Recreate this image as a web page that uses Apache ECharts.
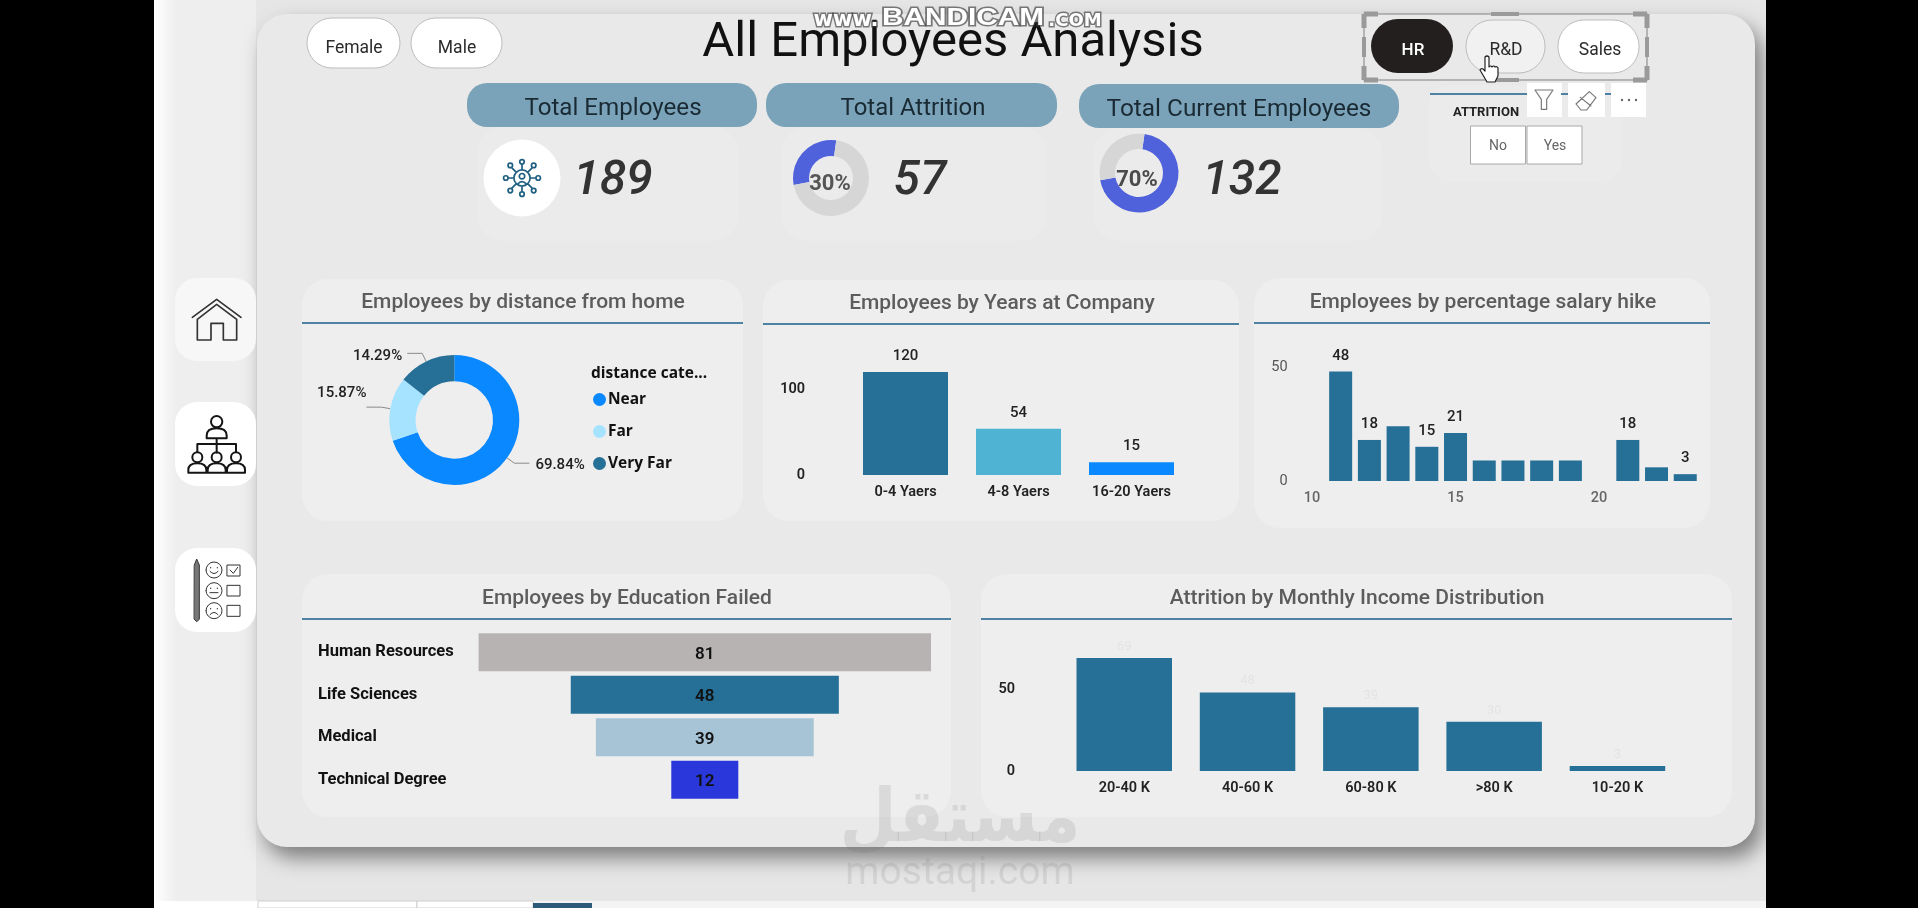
<!DOCTYPE html>
<html>
<head>
<meta charset="utf-8">
<title>All Employees Analysis</title>
<style>
  html, body { margin: 0; padding: 0; background: #000; overflow: hidden; }
  #board { width: 1918px; height: 908px; }
</style>
<script src="https://cdn.jsdelivr.net/npm/echarts@6/dist/echarts.min.js"></script>
</head>
<body>
<div id="board"></div>
<script>
// Headline figures
const totalEmployees = 189;
const totalAttrition = 57;
const totalCurrent = 132;

// Distance from home
const distanceNames = ['Near', 'Far', 'Very Far'];
const distanceValues = [132, 30, 27];

// Years at company
const yearBands = ['0-4 Yaers', '4-8 Yaers', '16-20 Yaers'];
const yearValues = [120, 54, 15];

// Percentage salary hike
const hikeSteps = ['10', '11', '12', '13', '14', '15', '16', '17', '18', '19', '20', '21', '22', '23'];
const hikeValues = [null, 48, 18, 24, 15, 21, 9, 9, 9, 9, null, 18, 6, 3];
const hikeLabelled = ['11', '12', '14', '15', '21', '23'];

// Education field
const educationNames = ['Human Resources', 'Life Sciences', 'Medical', 'Technical Degree'];
const educationValues = [81, 48, 39, 12];

// Monthly income bands
const incomeBands = ['20-40 K', '40-60 K', '60-80 K', '>80 K', '10-20 K'];
const incomeValues = [69, 48, 39, 30, 3];

const BLUE = '#266f96', SKY = '#0a88ff', PANEL = '#eeeeee', CARD = '#ebebeb', RULE = '#4d82a3', PILL = '#7aa3ba';
const FONT = 'Roboto, sans-serif';
const BOLD = '"Open Sans", sans-serif';

const gfx = [];
function rect(x, y, w, h, r, fill, extra) {
  gfx.push({ type: 'rect', silent: true, z: 0, shape: { x, y, width: w, height: h, r },
    style: Object.assign({ fill }, extra || {}) });
}
function text(t, x, y, size, fill, opts) {
  const o = opts || {};
  const item = { type: 'text', silent: true, z: o.z || 1, x, y,
    style: { text: t, fill, align: o.align || 'center', verticalAlign: 'middle',
      font: (o.style || '') + ' ' + (o.weight || 400) + ' ' + size + 'px ' + (o.family || FONT) } };
  if (o.stroke) {
    item.style.stroke = o.stroke; item.style.lineWidth = o.lineWidth; item.style.strokeFirst = true;
    item.style.shadowBlur = 5; item.style.shadowColor = 'rgba(40,40,40,0.8)';
  }
  if (o.scaleX) { item.scaleX = o.scaleX; }
  gfx.push(item);
}
// Line art is authored on a 3x sheet and brought down to screen size
let artCount = 0;
function art(d, ox, oy, stroke, lw, fill, scale, z) {
  const kind = 'artShape' + (artCount++);
  echarts.graphic.registerShape(kind, echarts.graphic.extendPath(d, {}));
  const s = scale || 1 / 3;
  gfx.push({ type: kind, silent: true, z: z || 2, x: ox, y: oy, scaleX: s, scaleY: s,
    style: { stroke, lineWidth: lw, fill: fill || 'none', lineJoin: 'round', lineCap: 'round' } });
}
function line(x1, y1, x2, y2, stroke, lw) {
  gfx.push({ type: 'line', silent: true, z: 1, shape: { x1, y1, x2, y2 }, style: { stroke, lineWidth: lw } });
}

// Page surface and main sheet
rect(154, 0, 1612, 908, 0, '#e6e6e6');
gfx.push({ type: 'rect', silent: true, z: 0, shape: { x: 154, y: 0, width: 22, height: 901 },
  style: { fill: { type: 'linear', x: 0, y: 0, x2: 1, y2: 0,
    colorStops: [{ offset: 0, color: '#ffffff' }, { offset: 1, color: '#eeeeee' }] } } });
rect(176, 0, 80, 901, 0, '#eeeeee');
rect(154, 901, 1612, 7, 0, '#f4f4f4');
rect(154, 901, 104, 7, 0, '#ffffff');
rect(258, 901, 159, 7, 0, '#ffffff', { stroke: '#cfcfcf', lineWidth: 1 });
rect(417, 901, 116, 7, 0, '#ffffff', { stroke: '#cfcfcf', lineWidth: 1 });
rect(533, 903, 59, 5, 0, '#2d5a78');
rect(257, 14, 1498, 833, 30, '#e9e9e9', { shadowBlur: 20, shadowOffsetX: 7, shadowOffsetY: 11, shadowColor: 'rgba(0,0,0,0.45)' });

// Left navigation tiles
rect(175, 278, 81, 83, 22, '#f7f7f7');
rect(175, 402, 81, 84, 22, '#ffffff');
rect(175, 548, 81, 84, 22, '#ffffff');
art('M157 172 L230 118 L303 172 M172 178 L230 133 L290 178 M172 178 V240 H213 V190 H250 V240 H290 V178', 140, 260, '#333', 5);
art('M213 485 a17 17 0 1 0 34 0 a17 17 0 1 0 -34 0 M200 535 v-8 q0 -22 30 -22 q30 0 30 22 v8 z M230 535 V578 M172 575 V552 H288 V575 ' +
    'M157 592 a15 15 0 1 0 30 0 a15 15 0 1 0 -30 0 M215 592 a15 15 0 1 0 30 0 a15 15 0 1 0 -30 0 M273 592 a15 15 0 1 0 30 0 a15 15 0 1 0 -30 0 ' +
    'M145 638 v-8 q0 -20 27 -20 q27 0 27 20 v8 z M203 638 v-8 q0 -20 27 -20 q27 0 27 20 v8 z M261 638 v-8 q0 -20 27 -20 q27 0 27 20 v8 z',
    140, 260, '#151515', 6);
art('M163 915 L170 897 L178 915 V1078 L170 1085 L163 1078 Z', 140, 260, '#333', 3, '#777');
art('M198 930 a24 24 0 1 0 48 0 a24 24 0 1 0 -48 0 M198 992 a24 24 0 1 0 48 0 a24 24 0 1 0 -48 0 M198 1052 a24 24 0 1 0 48 0 a24 24 0 1 0 -48 0 ' +
    'M210 934 q12 14 24 0 M210 998 H234 M210 1064 q12 -14 24 0 ' +
    'M212 922 v2 M232 922 v2 M212 984 v2 M232 984 v2 M212 1045 v2 M232 1045 v2 ' +
    'M262 915 H300 V948 H262 Z M262 976 H300 V1008 H262 Z M262 1036 H300 V1069 H262 Z M270 930 L280 940 L293 922',
    140, 260, '#333', 3);

// Heading
text('All Employees Analysis', 953, 44, 49, '#111111');

// Gender slicer
rect(307, 18, 93, 50, 25, '#ffffff', { stroke: '#bdbdbd', lineWidth: 1 });
rect(411, 18, 91, 50, 25, '#ffffff', { stroke: '#bdbdbd', lineWidth: 1 });
text('Female', 354, 49, 17.5, '#2b2b2b');
text('Male', 457, 49, 17.5, '#2b2b2b');

// Department slicer with its selection frame
gfx.push({ type: 'rect', silent: true, z: 1, shape: { x: 1364, y: 14, width: 283, height: 66 }, style: { fill: 'none', stroke: '#a3a3a3', lineWidth: 1.5 } });
[[1364, 14, 1, 1], [1647, 14, -1, 1], [1364, 80, 1, -1], [1647, 80, -1, -1]].forEach(c => {
  line(c[0], c[1], c[0] + 14 * c[2], c[1], '#9a9a9a', 5);
  line(c[0], c[1], c[0], c[1] + 14 * c[3], '#9a9a9a', 5);
});
[[1364, 47, 0, 10], [1647, 47, 0, 10], [1505, 14, 14, 0], [1505, 80, 14, 0]].forEach(c => {
  line(c[0] - c[2], c[1] - c[3], c[0] + c[2], c[1] + c[3], '#9a9a9a', 4);
});
rect(1371, 19, 82, 54, 27, '#231f1e');
rect(1466, 20, 79, 53, 26, '#f1f1f1', { stroke: '#bdbdbd', lineWidth: 1 });
rect(1558, 20, 81, 53, 26, '#ffffff', { stroke: '#bdbdbd', lineWidth: 1 });
text('HR', 1413, 50.5, 17, '#ffffff', { weight: 500 });
text('R&D', 1506, 50.5, 17.5, '#2b2b2b');
text('Sales', 1600, 50.5, 17.5, '#2b2b2b');

// KPI cards
rect(477, 127, 262, 114, 26, CARD);
rect(781, 127, 266, 114, 26, CARD);
rect(1093, 128, 289, 113, 26, CARD);
rect(467, 83, 290, 44, 20, PILL);
rect(766, 83, 291, 44, 20, PILL);
rect(1079, 84, 320, 44, 20, PILL);
text('Total Employees', 613, 109, 23, '#1a2a33', { scaleX: 1.05 });
text('Total Attrition', 913, 109, 23, '#1a2a33', { scaleX: 1.04 });
text('Total Current Employees', 1239, 110, 23, '#1a2a33', { scaleX: 1.06 });
gfx.push({ type: 'circle', silent: true, z: 1, shape: { cx: 522, cy: 178, r: 38.5 }, style: { fill: '#ffffff' } });
// Network-of-people emblem on the first card
art('M-18 0 a18 18 0 1 0 36 0 a18 18 0 1 0 -36 0 M-6 -4 a6 6 0 1 0 12 0 a6 6 0 1 0 -12 0 M-10 14 q10 -12 20 0 ' +
    'M0 -18 V-30 M0 18 V30 M-18 0 H-30 M18 0 H30 M-13 -13 L-22 -22 M13 -13 L22 -22 M-13 13 L-22 22 M13 13 L22 22 ' +
    'M-5 -36 a5 5 0 1 0 10 0 a5 5 0 1 0 -10 0 M-5 36 a5 5 0 1 0 10 0 a5 5 0 1 0 -10 0 ' +
    'M-41 0 a5 5 0 1 0 10 0 a5 5 0 1 0 -10 0 M31 0 a5 5 0 1 0 10 0 a5 5 0 1 0 -10 0 ' +
    'M-31 -28 a5 5 0 1 0 10 0 a5 5 0 1 0 -10 0 M21 -28 a5 5 0 1 0 10 0 a5 5 0 1 0 -10 0 ' +
    'M-31 28 a5 5 0 1 0 10 0 a5 5 0 1 0 -10 0 M21 28 a5 5 0 1 0 10 0 a5 5 0 1 0 -10 0', 522, 178, '#1e5f82', 3.8, null, 0.45);
text(String(totalEmployees), 613, 182, 48, '#333333', { style: 'italic', weight: 500 });
text(String(totalAttrition), 920, 182, 48, '#333333', { style: 'italic', weight: 500 });
text(String(totalCurrent), 1242, 182, 48, '#333333', { style: 'italic', weight: 500 });
text(Math.round(totalAttrition / totalEmployees * 100) + '%', 830, 184, 22, '#555555', { weight: 700, z: 5 });
text(Math.round(totalCurrent / totalEmployees * 100) + '%', 1137, 180, 22, '#4a4a4a', { weight: 700, z: 5 });

// Attrition slicer
rect(1428, 85, 194, 97, 24, CARD);
line(1430, 94, 1527, 94, RULE, 2);
line(1561, 94, 1568, 94, RULE, 2);
line(1605, 94, 1611, 94, RULE, 2);
text('ATTRITION', 1486, 113, 13, '#222222', { weight: 700 });
rect(1470.5, 126, 55, 38, 0, '#ffffff', { stroke: '#a8a8a8', lineWidth: 1 });
rect(1527, 126, 55, 38, 0, '#ffffff', { stroke: '#a8a8a8', lineWidth: 1 });
text('No', 1498, 146, 14, '#666666');
text('Yes', 1555, 146, 14, '#666666');
rect(1527, 83, 35, 34, 0, '#ffffff');
rect(1568, 83, 37, 34, 0, '#ffffff');
rect(1611, 83, 35, 34, 0, '#ffffff');
art('M-27 -30 H27 L8 -2 V28 H-8 V-2 Z', 1544, 100, '#777', 3.5);
art('M-30 12 L10 -25 L30 -7 L2 30 H-15 Z M-17 -8 L15 18', 1586, 100, '#777', 3.5);
[1622, 1629, 1636].forEach(x => gfx.push({ type: 'circle', silent: true, z: 2, shape: { cx: x, cy: 100, r: 1.2 }, style: { fill: '#666' } }));

// Chart tiles with their title and rule
[[302, 279, 441, 242, 'Employees by distance from home', 523, 303, 323],
 [763, 280, 476, 241, 'Employees by Years at Company', 1002, 304, 324],
 [1254, 278, 456, 250, 'Employees by percentage salary hike', 1483, 303, 323],
 [302, 574, 649, 243, 'Employees by Education Failed', 627, 599, 619],
 [981, 574, 751, 243, 'Attrition by Monthly Income Distribution', 1357, 599, 619]
].forEach(p => {
  rect(p[0], p[1], p[2], p[3], 26, PANEL);
  text(p[4], p[5], p[6], 20, '#5c5c5c', { weight: 500, scaleX: 1.05 });
  line(p[0], p[7], p[0] + p[2], p[7], RULE, 2);
});
text('distance cate...', 591, 374, 15.5, '#111111', { align: 'left', weight: 700, family: BOLD });

// Hand pointer over the slicer
art('M6 2 q2 -2 4 0 V12 q2 -2 3 0 q2 -2 3 0 q2 -1 3 1 V21 l-3 6 H8 L1 15 q1 -2 3 -1 l2 2 Z', 1479, 55, '#222222', 1.2, '#ffffff', 1, 70);

// Faint site marks laid over the sheet
text('مستقل', 960, 822, 74, 'rgba(110,110,110,0.15)', { weight: 700, family: '"DejaVu Sans"', z: 50, scaleX: 0.89 });
text('mostaqi.com', 960, 874, 39, 'rgba(110,110,110,0.15)', { z: 50 });
const haze = { weight: 700, stroke: 'rgba(60,60,60,0.65)', lineWidth: 3, z: 60 };
text('www.', 846, 21, 21, '#ffffff', Object.assign({ family: '"DejaVu Sans"' }, haze));
text('BANDICAM', 963, 18, 24, '#ffffff', Object.assign({ family: '"Liberation Sans"', scaleX: 1.24 }, haze));
text('.COM', 1075, 21, 18, '#ffffff', Object.assign({ family: '"DejaVu Sans"' }, haze));

function ring(center, outer, inner, data, colors, startAngle, clockwise) {
  return { type: 'pie', silent: true, center, radius: [inner, outer], startAngle, clockwise,
    label: { show: false }, labelLine: { show: false }, emphasis: { disabled: true },
    data: data.map((v, i) => ({ value: v, itemStyle: { color: colors[i] } })) };
}

function axisText(size, color, weight) {
  return { fontFamily: FONT, fontSize: size, color, fontWeight: weight };
}
function valueAxis(gridIndex, max, ticks, margin, color, weight) {
  return { type: 'value', gridIndex, min: 0, max, splitLine: { show: false }, axisLine: { show: false }, axisTick: { show: false },
    axisLabel: Object.assign(axisText(14.5, color, weight), { customValues: ticks, margin, padding: [2, 0, 0, 0] }) };
}
function bandAxis(gridIndex, data, color, weight, extra) {
  return { type: 'category', gridIndex, data, axisLine: { show: false }, axisTick: { show: false },
    axisLabel: Object.assign(axisText(14.5, color, weight), { margin: 10, interval: 0 }, extra || {}) };
}
// Nudges that keep the donut's percentage labels clear of one another
const donutLabelNudge = [[1, 2], [5, -14], [0, 3]];

const option = {
  backgroundColor: '#000000',
  animation: false,
  graphic: { elements: gfx },
  legend: { show: true, orient: 'vertical', left: 588, top: 385, data: distanceNames, icon: 'circle',
    itemWidth: 13, itemHeight: 13, itemGap: 13, selectedMode: false,
    itemStyle: { borderWidth: 0 },
    textStyle: { fontFamily: BOLD, fontSize: 15.5, fontWeight: 700, color: '#111111', padding: [0, 0, 0, -3], lineHeight: 19 } },
  grid: [
    { left: 849, top: 372, width: 339, height: 103 },
    { left: 1297.6, top: 367, width: 402, height: 114 },
    { left: 478.6, top: 631, width: 452.4, height: 170 },
    { left: 1062.6, top: 658, width: 616.5, height: 113 }
  ],
  xAxis: [
    bandAxis(0, yearBands, '#222222', 600),
    bandAxis(1, hikeSteps, '#666666', 500, { interval: 4 }),
    { type: 'value', gridIndex: 2, min: 0, max: educationValues[0], show: false },
    bandAxis(3, incomeBands, '#222222', 600)
  ],
  yAxis: [
    valueAxis(0, yearValues[0], [0, 100], 44, '#222222', 600),
    valueAxis(1, 50, [0, 50], 10, '#555555', 400),
    { type: 'category', gridIndex: 2, inverse: true, data: educationNames, axisLine: { show: false }, axisTick: { show: false },
      axisLabel: Object.assign(axisText(16.5, '#111111', 700), { align: 'left', margin: 160.6, padding: [2, 0, 0, 0] }) },
    valueAxis(3, incomeValues[0], [0, 50], 47.6, '#222222', 600)
  ],
  series: [
    ring([831, 178], 38, 22, [totalAttrition, totalCurrent], ['#4f62dc', '#d6d6d6'], 82, false),
    ring([1139, 173], 39.5, 24, [totalCurrent, totalAttrition], ['#4f62dc', '#d6d6d6'], 82, true),
    {
      type: 'pie', center: [454.3, 420], radius: [38.7, 65], startAngle: 90, silent: true,
      percentPrecision: 2,
      itemStyle: { borderWidth: 0 },
      label: { formatter: '{d}%', fontFamily: FONT, fontSize: 15, fontWeight: 500, color: '#222222' },
      labelLine: { length: 9, length2: 15, lineStyle: { color: '#8a8a8a', width: 1 } },
      labelLayout: p => ({ dx: donutLabelNudge[p.dataIndex][0], dy: donutLabelNudge[p.dataIndex][1] }),
      data: distanceNames.map((name, i) => ({ name, value: distanceValues[i],
        itemStyle: { color: [SKY, '#a5e3ff', BLUE][i] } }))
    },
    {
      type: 'bar', xAxisIndex: 0, yAxisIndex: 0, barWidth: 85,
      label: { show: true, position: 'top', distance: 8, fontFamily: FONT, fontSize: 15, fontWeight: 500, color: '#222222' },
      data: yearValues.map((value, i) => ({ value, itemStyle: { color: [BLUE, '#4fb3d3', SKY][i] } }))
    },
    {
      type: 'bar', xAxisIndex: 1, yAxisIndex: 1, barWidth: 23,
      itemStyle: { color: BLUE },
      data: hikeValues.map((value, i) => ({ value, label: {
        show: hikeLabelled.includes(hikeSteps[i]), position: 'top', distance: 8,
        fontFamily: FONT, fontSize: 15, fontWeight: 500, color: '#222222' } }))
    },
    {
      type: 'bar', xAxisIndex: 2, yAxisIndex: 2, stack: 'funnel', barWidth: 38, silent: true,
      itemStyle: { color: 'transparent' },
      data: educationValues.map(v => (educationValues[0] - v) / 2)
    },
    {
      type: 'bar', xAxisIndex: 2, yAxisIndex: 2, stack: 'funnel', barWidth: 38,
      label: { show: true, position: 'inside', offset: [0, 2], fontFamily: FONT, fontSize: 17, fontWeight: 600, color: '#111111' },
      data: educationValues.map((value, i) => ({ value, itemStyle: { color: ['#b7b3b3', BLUE, '#a7c4d7', '#2a37db'][i] } }))
    },
    {
      type: 'bar', xAxisIndex: 3, yAxisIndex: 3, barWidth: 95.5,
      itemStyle: { color: BLUE },
      label: { show: true, position: 'top', distance: 5, fontFamily: FONT, fontSize: 13, color: '#e4e4e4' },
      data: incomeValues
    }
  ]
};

echarts.init(document.getElementById('board'), null, { renderer: 'canvas' }).setOption(option);
</script>
</body>
</html>
